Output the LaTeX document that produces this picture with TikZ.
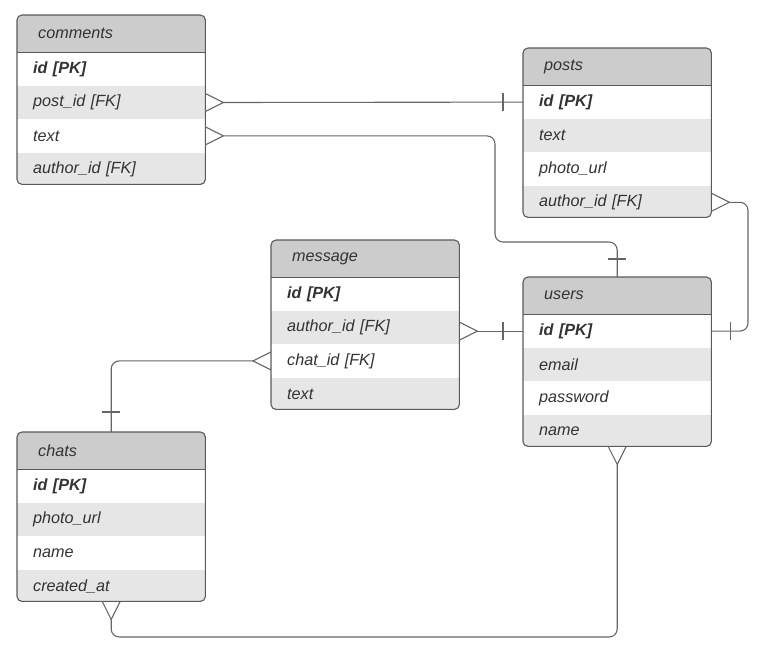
\documentclass[tikz,border=0pt]{standalone}
\usepackage{fontspec}
\setmainfont{Liberation Sans}
\usetikzlibrary{calc}

\definecolor{hdrgray}{HTML}{CCCCCC}
\definecolor{rowgray}{HTML}{E6E6E6}
\definecolor{edgegray}{HTML}{5A5A5A}
\definecolor{linegray}{HTML}{666666}
\definecolor{txtgray}{HTML}{333333}

\tikzset{
  tbl/.style={rectangle, minimum width=188pt, minimum height=169pt, inner sep=0pt},
  hdrbox/.style={rectangle, fill=hdrgray, minimum height=37pt, inner ysep=0pt,
    inner xsep=21pt, text width=146pt, align=left, text=txtgray,
    font=\fontsize{16.2}{19}\selectfont\itshape},
  rowbox/.style={rectangle, minimum height=33pt, inner ysep=0pt,
    inner xsep=16pt, text width=156pt, align=left, text=txtgray,
    font=\fontsize{16.2}{19}\selectfont\itshape},
  border/.style={draw=edgegray, line width=1.1pt},
  conn/.style={draw=linegray, line width=1.1pt},
}

% one table: name, x, y, title, four rows
\newcommand\ertable[8]{%
  \node[tbl, anchor=north west] (#1) at (#2,#3) {};
  \begin{scope}
    \clip[rounded corners=5pt] (#1.north west) rectangle (#1.south east);
    \node[hdrbox, anchor=north west] (#1-head) at (#1.north west) {#4};
    \node[rowbox, fill=white, anchor=north west] (#1-r1) at (#1-head.south west) {#5};
    \node[rowbox, fill=rowgray, anchor=north west] (#1-r2) at (#1-r1.south west) {#6};
    \node[rowbox, fill=white, anchor=north west] (#1-r3) at (#1-r2.south west) {#7};
    \node[rowbox, fill=rowgray, anchor=north west] (#1-r4) at (#1-r3.south west) {#8};
  \end{scope}
  \draw[border] (#1-head.south west) -- (#1-head.south east);
  \draw[border, rounded corners=5pt] (#1.north west) rectangle (#1.south east);
}

% crow's feet (many side) and bars (one side)
\newcommand\crowE[1]{\draw[conn] ([yshift=9pt]#1) -- ([xshift=18pt]#1) -- ([yshift=-9pt]#1);}
\newcommand\crowW[1]{\draw[conn] ([yshift=9pt]#1) -- ([xshift=-18pt]#1) -- ([yshift=-9pt]#1);}
\newcommand\crowS[1]{\draw[conn] ([xshift=-9pt]#1) -- ([yshift=-18pt]#1) -- ([xshift=9pt]#1);}
\newcommand\barV[2]{\draw[conn] ([xshift=#2,yshift=9pt]#1) -- ([xshift=#2,yshift=-9pt]#1);}
\newcommand\barH[2]{\draw[conn] ([yshift=#2,xshift=-9pt]#1) -- ([yshift=#2,xshift=9pt]#1);}

\begin{document}
\begin{tikzpicture}[x=1pt, y=-1pt]
\useasboundingbox (0,0) rectangle (763,656);

\ertable{comments}{17}{15}{comments}{\textbf{id [PK]}}{post\_id [FK]}{text}{author\_id [FK]}
\ertable{posts}{523}{48}{posts}{\textbf{id [PK]}}{text}{photo\_url}{author\_id [FK]}
\ertable{message}{271}{240}{message}{\textbf{id [PK]}}{author\_id [FK]}{chat\_id [FK]}{text}
\ertable{users}{523}{277}{users}{\textbf{id [PK]}}{email}{password}{name}
\ertable{chats}{17}{432}{chats}{\textbf{id [PK]}}{photo\_url}{name}{created\_at}

\coordinate (bendA) at (495,242);
\coordinate (bendB) at (748,265);
\coordinate (bendC) at (364,637);
\coordinate (msgfoot) at (users-r1.west -| message.east);

% comments.post_id -> posts.id
\draw[conn] ([xshift=18pt]comments-r2.east) -- (posts-r1.west);
\crowE{comments-r2.east}
\barV{posts-r1.west}{-20pt}

% comments.text -> users
\draw[conn, rounded corners=8pt] ([xshift=18pt]comments-r3.east) -| (bendA) -| (users.north);
\crowE{comments-r3.east}
\barH{users.north}{18pt}

% posts.author_id -> users.id
\draw[conn, rounded corners=8pt] ([xshift=18pt]posts-r4.east) -| (bendB) |- (users-r1.east);
\crowE{posts-r4.east}
\barV{users-r1.east}{19pt}

% message.author_id -> users.id
\draw[conn] ([xshift=18pt]msgfoot) -- (users-r1.west);
\crowE{msgfoot}
\barV{users-r1.west}{-20pt}

% message.chat_id -> chats.id
\draw[conn, rounded corners=8pt] ([xshift=-18pt]message-r3.west) -| (chats.north);
\crowW{message-r3.west}
\barH{chats.north}{20pt}

% users <-> chats
\draw[conn, rounded corners=8pt] ([yshift=-18pt]users.south) |- (bendC) -| ([yshift=-18pt]chats.south);
\crowS{users.south}
\crowS{chats.south}

\end{tikzpicture}
\end{document}
